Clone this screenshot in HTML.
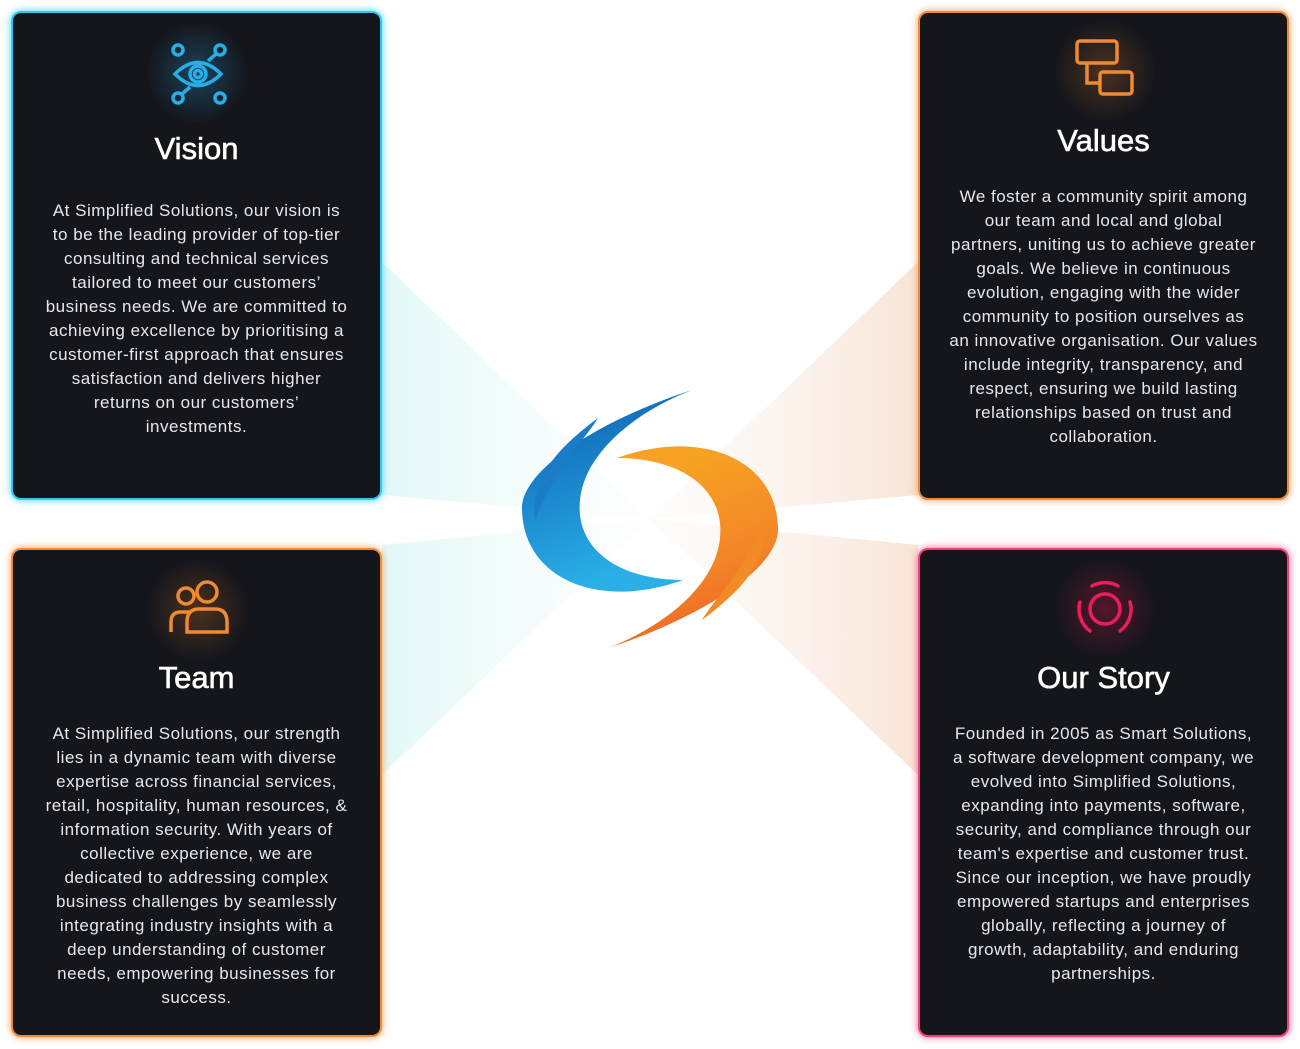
<!DOCTYPE html>
<html><head><meta charset="utf-8"><style>
html,body{margin:0;padding:0;background:#fff;}
body{width:1300px;height:1049px;position:relative;overflow:hidden;font-family:"Liberation Sans",sans-serif;}
.card{position:absolute;width:371px;height:489px;background:#15161c;border-radius:10px;box-sizing:border-box;color:#fff;text-align:center;}
.c1{left:11px;top:11px;border:2px solid #2ec8f0;box-shadow:0 0 8px #3ad4f5;}
.c2{left:918px;top:11px;border:2px solid #f08a3a;box-shadow:0 0 8px #f59a4a;}
.c3{left:11px;top:548px;border:2px solid #f08a3a;box-shadow:0 0 8px #f59a4a;}
.c4{left:918px;top:548px;border:2px solid #f0407a;box-shadow:0 0 8px #f55a8a;}
h2{position:absolute;left:0;right:0;margin:0;font-size:31px;font-weight:normal;-webkit-text-stroke:0.6px #fff;line-height:36px;}
p{position:absolute;left:-10px;right:-10px;margin:0;font-size:17px;line-height:24px;color:#e8e8ea;letter-spacing:0.5px;white-space:nowrap;}
.ic{position:absolute;}
.glow{position:absolute;width:120px;height:120px;border-radius:50%;}
svg.bg{position:absolute;left:0;top:0;}
</style></head><body>
<svg class="bg" width="1300" height="1049">
<defs>
<linearGradient id="gc" x1="0" x2="1"><stop offset="0" stop-color="#e2f8f8"/><stop offset="1" stop-color="#f9fcfc" stop-opacity="0.3"/></linearGradient>
<linearGradient id="go" x1="1" x2="0"><stop offset="0" stop-color="#f8e4d6"/><stop offset="1" stop-color="#fcf6f2" stop-opacity="0.3"/></linearGradient>
<linearGradient id="gb" x1="0" y1="0" x2="0.3" y2="1"><stop offset="0" stop-color="#0a5aa8"/><stop offset="0.5" stop-color="#1a86cc"/><stop offset="1" stop-color="#2ab0e6"/></linearGradient>
<linearGradient id="gor" x1="0" y1="0" x2="0.3" y2="1"><stop offset="0" stop-color="#ee5422"/><stop offset="0.5" stop-color="#f38628"/><stop offset="1" stop-color="#f7a223"/></linearGradient>
</defs>
<polygon points="382,262 382,495 650,519" fill="url(#gc)"/>
<polygon points="382,545 382,775 650,519" fill="url(#gc)"/>
<polygon points="918,262 918,495 650,519" fill="url(#go)"/>
<polygon points="918,545 918,775 650,519" fill="url(#go)"/>
<path d="M692,390 C600,420 520,470 522,510 C524,580 600,610 683,580 C620,580 575,550 580,500 C585,450 640,410 692,390 Z" fill="url(#gb)"/>
<path d="M598,418 C555,450 530,480 535,520 C560,460 585,440 598,418 Z" fill="#1a7cc4"/>
<g transform="rotate(180 650 519)"><path d="M692,390 C600,420 520,470 522,510 C524,580 600,610 683,580 C620,580 575,550 580,500 C585,450 640,410 692,390 Z" fill="url(#gor)"/>
<path d="M598,418 C555,450 530,480 535,520 C560,460 585,440 598,418 Z" fill="#f28a25"/></g>
</svg>

<div class="card c1">
<div class="glow" style="left:124px;top:0;background:radial-gradient(circle,rgba(40,170,230,0.3),rgba(40,170,230,0) 60%)"></div>
<svg class="ic" style="left:148px;top:26px" width="72" height="72" viewBox="0 0 72 72" fill="none" stroke="#27aee8" stroke-width="3.5">
<circle cx="17" cy="11" r="5"/><circle cx="59" cy="11" r="5"/><circle cx="17" cy="59" r="5"/><circle cx="59" cy="59" r="5"/>
<path d="M55,15 L47,22 M21,55 L29,48"/>
<path d="M14,35 Q37,12 60,35 Q37,58 14,35 Z"/><circle cx="37" cy="35" r="8"/><circle cx="37" cy="35" r="3.5"/>
</svg>
<h2 style="top:118px">Vision</h2>
<p style="top:186px">At Simplified Solutions, our vision is<br>to be the leading provider of top-tier<br>consulting and technical services<br>tailored to meet our customers’<br>business needs. We are committed to<br>achieving excellence by prioritising a<br>customer-first approach that ensures<br>satisfaction and delivers higher<br>returns on our customers’<br>investments.</p>
</div>

<div class="card c2">
<div class="glow" style="left:125px;top:-2px;background:radial-gradient(circle,rgba(240,130,40,0.25),rgba(240,130,40,0) 60%)"></div>
<svg class="ic" style="left:150px;top:24px" width="70" height="70" viewBox="0 0 70 70" fill="none" stroke="#f08a30" stroke-width="3.5">
<rect x="7" y="4" width="40" height="22" rx="3"/><rect x="30" y="35" width="32" height="22" rx="3"/><path d="M17,26 V46 H30"/>
</svg>
<h2 style="top:110px">Values</h2>
<p style="top:172px">We foster a community spirit among<br>our team and local and global<br>partners, uniting us to achieve greater<br>goals. We believe in continuous<br>evolution, engaging with the wider<br>community to position ourselves as<br>an innovative organisation. Our values<br>include integrity, transparency, and<br>respect, ensuring we build lasting<br>relationships based on trust and<br>collaboration.</p>
</div>

<div class="card c3">
<div class="glow" style="left:125px;top:0;background:radial-gradient(circle,rgba(240,130,40,0.25),rgba(240,130,40,0) 60%)"></div>
<svg class="ic" style="left:152px;top:26px" width="66" height="66" viewBox="0 0 66 66" fill="none" stroke="#f08a30" stroke-width="3.5">
<circle cx="42" cy="16" r="10"/><circle cx="21" cy="20" r="8"/><path d="M6,56 V46 Q6,36 16,36 H26"/><path d="M22,56 V46 Q22,33 34,33 H50 Q62,33 62,46 V56 Z"/>
</svg>
<h2 style="top:110px">Team</h2>
<p style="top:172px">At Simplified Solutions, our strength<br>lies in a dynamic team with diverse<br>expertise across financial services,<br>retail, hospitality, human resources, &amp;<br>information security. With years of<br>collective experience, we are<br>dedicated to addressing complex<br>business challenges by seamlessly<br>integrating industry insights with a<br>deep understanding of customer<br>needs, empowering businesses for<br>success.</p>
</div>

<div class="card c4">
<div class="glow" style="left:125px;top:-2px;background:radial-gradient(circle,rgba(230,20,80,0.3),rgba(230,20,80,0) 60%)"></div>
<svg class="ic" style="left:150px;top:24px" width="70" height="70" viewBox="0 0 70 70" fill="none" stroke="#ef1c5a" stroke-width="3.5" stroke-linecap="round">
<circle cx="35" cy="35" r="15"/>
<path d="M22,12 A27,27 0 0 1 48,12"/><path d="M10,28 A27,27 0 0 0 20,57"/><path d="M60,28 A27,27 0 0 1 50,57"/>
</svg>
<h2 style="top:110px">Our Story</h2>
<p style="top:172px">Founded in 2005 as Smart Solutions,<br>a software development company, we<br>evolved into Simplified Solutions,<br>expanding into payments, software,<br>security, and compliance through our<br>team's expertise and customer trust.<br>Since our inception, we have proudly<br>empowered startups and enterprises<br>globally, reflecting a journey of<br>growth, adaptability, and enduring<br>partnerships.</p>
</div>
</body></html>
